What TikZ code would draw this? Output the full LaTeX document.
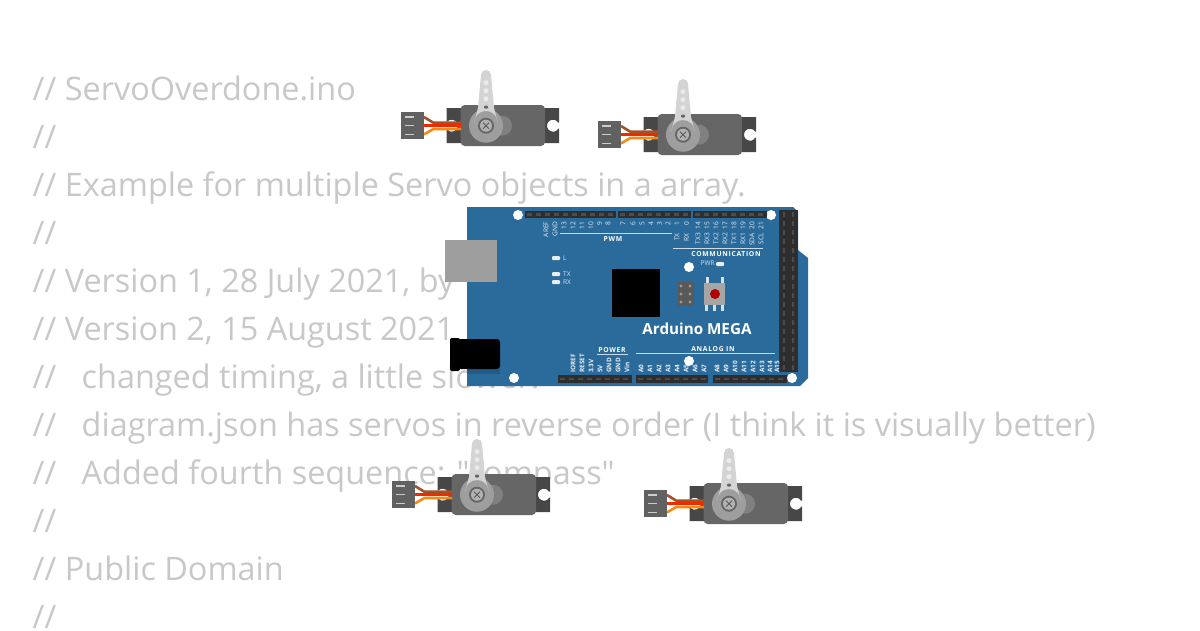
\documentclass[tikz,border=0pt]{standalone}
\usepackage{fontspec}
\setmainfont{Open Sans}[Ligatures=TeXOff]
\definecolor{boardblue}{HTML}{2B6B9C}
\definecolor{codegray}{HTML}{C8C8C8}
\definecolor{wirebrown}{HTML}{A0522D}
\definecolor{wirered}{HTML}{EE2A00}
\definecolor{wireorange}{HTML}{F58A14}
\tikzset{
	codeline/.style={anchor=base west,inner sep=0pt,text=codegray,font=\fontsize{32.4}{32}\selectfont},
	pinlabel/.style={rotate=90,anchor=west,inner sep=0pt,text=white!90!boardblue,font=\fontsize{6.4}{6.4}\selectfont\bfseries},
	uplabel/.style={rotate=90,anchor=east,inner sep=0pt,text=white!88!boardblue,font=\fontsize{6.6}{6.6}\selectfont},
	boardtitle/.style={inner sep=0pt,text=white,font=\fontsize{6.8}{6.8}\selectfont\bfseries\addfontfeature{LetterSpace=10}},
	ledlabel/.style={anchor=west,inner sep=0pt,text=white!80!boardblue,font=\fontsize{6.5}{6.5}\selectfont},
	socket/.style={fill=black!82},
	pinmark/.style={draw=black!70,line width=2.2pt},
	ledmark/.style={fill=white!88!boardblue,rounded corners=1pt},
	servo/.pic={
		% wires
		\fill[black!72] (-39.3,-17.5)--(-39.3,-4)--(-38.8,-4)
			arc[start angle=-138.2,end angle=138.2,radius=6]--(-39.3,4)
			--(-39.3,17.5)--(73,17.5)--(73,3)--(72.2,3)
			arc[start angle=30,end angle=330,radius=6]--(73,-3)
			--(73,-17.5)--cycle;
		\fill[black!60,rounded corners=4pt] (-25.3,-20.7) rectangle (59,20.3);
		\fill[black!50] (16,0) circle (10);
		\draw[wirebrown,line width=2.6pt] (-62,-8.7)--(-52.7,-3)--(-25,-3);
		\draw[wireorange,line width=2.6pt] (-62,8.7)--(-52.7,3.3)--(-25,3.3);
		\draw[wirered,line width=2.6pt] (-62,0)--(-25,0);
		\fill[black!62] (-85.3,-13.7) rectangle (-61.7,13);
		\foreach \y in {-8.7,0,8.7}{
			\fill[black!20] (-81,\y-.6) rectangle (-72,\y+.6);
		}
		% horn
		\fill[black!38] (0,0) circle (17);
		\fill[black!17] (-5,-50.7) arc[start angle=180,end angle=360,radius=5]
			--(8,-18)--(11.8,-3) arc[start angle=0,end angle=-180,radius=11.8]--(-8,-18)--cycle;
		\foreach \y in {-43,-35,-27}{
			\fill[white!92!black] (0,\y) circle (2.5);
		}
		\fill[black!60,rounded corners=1pt] (-2,-20) rectangle (2,-17);
		\fill[black!60] (0,0) circle (8);
		\fill[black!30] (0,0) circle (6);
		\draw[black!65,line width=.8pt] (-3,-3)--(3,3) (-3,3)--(3,-3);
	}
}
\begin{document}
\begin{tikzpicture}[x=1pt,y=-1pt]
	\useasboundingbox (0,0) rectangle (1200,630);
	\path
	(486,125.7) coordinate (S1)
	(683,134.7) coordinate (S2)
	(477,494.7) coordinate (S3)
	(729,503.7) coordinate (S4)
	;
	\fill[white] (0,0) rectangle (1200,630);
	% the sketch, behind everything
	\foreach \t [count=\i] in {
		// ServoOverdone.ino,
		//,
		// Example for multiple Servo objects in a array.,
		//,
		{// Version 1, 28 July 2021, by},
		{// Version 2, 15 August 2021},
		{//~~~changed timing, a little slower.},
		//~~~diagram.json has servos in reverse order (I think it is visually better),
		{//~~~Added fourth sequence: "compass"},
		//,
		// Public Domain,
		//
	}{
		\node[codeline] (line\i) at (32.5,52+48*\i) {\t};
	}
	% board
	\fill[black!35] (473,238) circle (4) (473,283) circle (4);
	\fill[boardblue] (467,207)--(793,207)--(798,212)--(798,250)--(808,258)--(808,378)--(800,386)--(467,386)--cycle;
	\fill[boardblue!85!black] (467,369) rectangle (500,374);
	\fill[white] (518,215) circle (5) (771,215) circle (5) (689,267) circle (5)
		(689,361) circle (5) (792,378) circle (5) (514,378) circle (5);
	% sockets
	\foreach \a/\b in {525/616,618/691,693/767}{
		\fill[socket] (\a,211) rectangle (\b,218);
		\draw[pinmark,dash pattern=on 5pt off 4pt] (\a+2,214.5)--(\b,214.5);
	}
	\foreach \a/\b in {558/632,636/708,713/787}{
		\fill[socket] (\a,375) rectangle (\b,383);
		\draw[pinmark,dash pattern=on 5pt off 4pt] (\a+2,379)--(\b,379);
	}
	\fill[socket] (779,210) rectangle (798,372);
	\foreach \x in {784,793}{
		\draw[pinmark,dash pattern=on 5pt off 4pt] (\x,212)--(\x,372);
	}
	% parts
	\fill[black!38] (445,240) rectangle (497,282);
	\fill[black,rounded corners=2pt] (450,338) rectangle (460,371);
	\fill[black,rounded corners=3pt] (458,339) rectangle (500,369);
	\fill[black] (612,269) rectangle (660,317);
	\fill[black!65] (678,282) rectangle (694,306);
	\foreach \x in {681,690}{
		\foreach \y in {286,294,302}{
			\fill[black!40] (\x,\y) circle (1.7);
		}
	}
	\foreach \x in {707,722}{
		\fill[white!80!boardblue] (\x-1.5,277) rectangle (\x+1.5,284);
	}
	\foreach \x in {706,714,722}{
		\fill[white!80!boardblue] (\x-1.5,304) rectangle (\x+1.5,311);
	}
	\fill[black!35] (704,283) rectangle (725,305);
	\fill[red!70!black] (715,294) circle (5);
	\fill[ledmark] (552,256) rectangle (560,260);
	\fill[ledmark] (552,272) rectangle (560,276);
	\fill[ledmark] (552,280) rectangle (560,284);
	\fill[ledmark] (716,262) rectangle (724,266);
	\node[ledlabel] (ledL) at (563,258) {L};
	\node[ledlabel] (ledTX) at (563,274.5) {TX};
	\node[ledlabel] (ledRX) at (563,282.5) {RX};
	\node[ledlabel] (ledPWR) at (700.5,263.5) {PWR};
	% silk
	\draw[white!75!boardblue,line width=.7pt] (560,233)--(672,233) (673,248)--(763,248)
		(597,354)--(628,354) (636,353)--(775,353);
	\node[boardtitle] (pwm) at (613,239) {PWM};
	\node[boardtitle] (comm) at (726,254.5) {COMMUNICATION};
	\node[boardtitle] (power) at (612,350) {POWER};
	\node[boardtitle] (analog) at (713,349) {ANALOG IN};
	\node[inner sep=0pt,text=white,font=\fontsize{15.2}{15.2}\selectfont\bfseries] (title) at (697,329) {Arduino MEGA};
	\foreach \x/\t in {546/AREF,555/GND,564/13,573/12,582/11,591/10,599.5/9,608/8,623/7,633/6,642/5,651/4,659.5/3,668/2,677/1,686.5/0,698/14,707/15,716/16,725/17,734/18,743/19,752/20,761/21}{
		\node[uplabel] (top\t) at (\x,221.5) {\t};
	}
	\foreach \x/\t in {677/TX,686.5/RX,698/TX3,707/RX3,716/TX2,725/RX2,734/TX1,743/RX1,752/SDA,761/SCL}{
		\node[uplabel] (sig\t) at (\x,233) {\t};
	}
	\foreach \x/\t in {573/IOREF,582/RESET,591/3.3V,600/5V,609/GND,618/GND,627/Vin}{
		\node[pinlabel] (pw\x) at (\x,373) {\t};
	}
	\foreach \x/\t in {641/A0,650/A1,659/A2,668/A3,677/A4,686/A5,695/A6,704/A7,717/A8,726/A9,735/A10,744/A11,753/A12,762/A13,770/A14,777/A15}{
		\node[pinlabel] (an\t) at (\x,373) {\t};
	}
	% servos
	\foreach \t in {S1,S2,S3,S4}{
		\pic at (\t) {servo};
	}
\end{tikzpicture}
\end{document}
